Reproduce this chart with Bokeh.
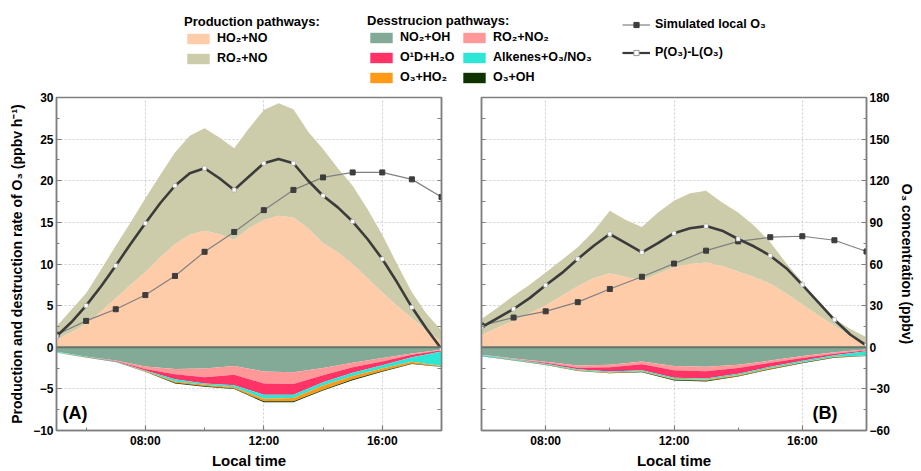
import numpy as np
from bokeh.plotting import figure
from bokeh.models import (Range1d, LinearAxis, FixedTicker, Legend, LegendItem,
                          Label, Span)
from bokeh.layouts import column, row
from bokeh.embed import file_html
from bokeh.resources import INLINE

FONT = "Liberation Sans"

# ---------------- data ----------------
tick_labels = {8: "08:00", 12: "12:00", 16: "16:00"}

hours_A = [5, 6, 7, 8, 9, 10, 11, 12, 13, 14, 15, 16, 17, 18]
half_A = [5.0, 5.5, 6.0, 6.5, 7.0, 7.5, 8.0, 8.5, 9.0, 9.5, 10.0, 10.5, 11.0, 11.5,
          12.0, 12.5, 13.0, 13.5, 14.0, 14.5, 15.0, 15.5, 16.0, 16.5, 17.0, 17.5, 18.0]
A_ho2_no = [0.9, 1.8, 2.8, 4.3, 5.9, 7.5, 9.0, 10.8, 12.4, 13.5, 14.0, 13.6, 12.9, 14.3,
            15.3, 15.8, 15.6, 14.3, 12.5, 11.4, 10.0, 8.3, 6.6, 5.0, 3.5, 2.0, 0.7]
A_ro2_no = [1.6, 2.7, 3.7, 5.0, 6.3, 7.5, 8.9, 9.9, 11.0, 11.9, 12.3, 11.6, 11.0, 12.0,
            13.2, 13.5, 13.0, 11.6, 11.3, 10.1, 9.4, 8.3, 6.9, 5.0, 3.1, 2.0, 1.3]
A_PL = [1.3, 3.0, 5.0, 7.3, 9.8, 12.4, 14.9, 17.3, 19.4, 20.9, 21.5, 20.3, 18.9, 20.5,
        22.1, 22.6, 22.1, 20.0, 18.2, 16.8, 15.1, 13.0, 10.6, 7.8, 4.8, 2.2, -0.2]
A_O3 = [9, 19, 27.4, 37.6, 51.4, 68.8, 83.1, 98.8, 113.4, 122.4, 126, 126, 121, 108.3]
A_no2_oh = [0.55, 1.1, 1.6, 2.3, 2.6, 2.55, 2.25, 2.9, 3.0, 2.5, 1.85, 1.3, 0.75, 0.3]
A_ro2_no2 = [0.0, 0.0, 0.05, 0.3, 0.65, 1.05, 1.05, 1.45, 1.4, 0.85, 0.55, 0.4, 0.15, 0.05]
A_o1d_h2o = [0.0, 0.02, 0.05, 0.2, 0.6, 0.75, 1.25, 1.35, 1.3, 0.85, 0.65, 0.45, 0.3, 0.15]
A_alkenes = [0.08, 0.05, 0.03, 0.05, 0.25, 0.15, 0.25, 0.5, 0.4, 0.4, 0.4, 0.4, 0.55, 1.75]
A_o3_ho2 = [0.02, 0.02, 0.02, 0.05, 0.15, 0.15, 0.15, 0.3, 0.4, 0.5, 0.4, 0.3, 0.2, 0.08]
A_o3_oh = [0.02, 0.03, 0.03, 0.05, 0.1, 0.08, 0.08, 0.12, 0.12, 0.1, 0.1, 0.08, 0.06, 0.05]

hours_B = [6, 7, 8, 9, 10, 11, 12, 13, 14, 15, 16, 17, 18]
half_B = [6.0, 6.5, 7.0, 7.5, 8.0, 8.5, 9.0, 9.5, 10.0, 10.5, 11.0, 11.5, 12.0,
          12.5, 13.0, 13.5, 14.0, 14.5, 15.0, 15.5, 16.0, 16.5, 17.0, 17.5, 18.0]
B_ho2_no = [1.46, 2.37, 3.16, 4.07, 5.02, 6.2, 7.32, 8.31, 8.9, 8.43, 8.03, 8.82, 9.62,
            10.0, 10.17, 9.77, 9.1, 8.43, 7.64, 6.45, 5.14, 3.84, 2.57, 1.38, 0.27]
B_ro2_no = [1.94, 2.38, 3.04, 3.45, 3.96, 4.29, 4.68, 5.66, 7.5, 6.87, 6.42, 7.38, 7.98,
            8.5, 8.63, 7.63, 7.1, 6.17, 4.96, 3.65, 2.66, 1.56, 0.83, 0.82, 0.93]
B_PL = [2.4, 3.5, 4.6, 5.9, 7.45, 8.9, 10.6, 12.2, 13.6, 12.5, 11.4, 12.5, 13.7,
        14.3, 14.55, 14.0, 13.0, 12.1, 11.0, 9.5, 7.5, 5.4, 3.3, 1.5, 0.2]
B_O3 = [15.6, 21.4, 25.9, 32.5, 42, 50.8, 60.3, 69.6, 76.3, 79.3, 80, 77.1, 69]
B_no2_oh = [0.9, 1.35, 1.75, 2.2, 2.1, 1.7, 2.25, 2.35, 2.1, 1.6, 1.05, 0.6, 0.28]
B_ro2_no2 = [0.02, 0.05, 0.1, 0.25, 0.3, 0.35, 0.5, 0.52, 0.4, 0.27, 0.23, 0.17, 0.08]
B_o1d_h2o = [0.02, 0.05, 0.13, 0.2, 0.52, 0.72, 0.9, 0.87, 0.67, 0.48, 0.33, 0.18, 0.12]
B_alkenes = [0.1, 0.08, 0.08, 0.1, 0.1, 0.1, 0.16, 0.16, 0.15, 0.15, 0.18, 0.2, 0.5]
B_o3_ho2 = [0.02, 0.03, 0.04, 0.06, 0.06, 0.07, 0.1, 0.12, 0.12, 0.1, 0.08, 0.06, 0.05]
B_o3_oh = [0.02, 0.03, 0.04, 0.05, 0.05, 0.05, 0.08, 0.1, 0.08, 0.07, 0.06, 0.04, 0.03]

prod_names = ["HO₂+NO", "RO₂+NO"]
prod_colors = ["#FFCCAA", "#CCCCAA"]
dest_names = ["NO₂+OH", "RO₂+NO₂", "O¹D+H₂O", "Alkenes+O₃/NO₃", "O₃+HO₂", "O₃+OH"]
dest_colors = ["#82AA96", "#FF9999", "#FF3366", "#2EE6D6", "#FF9916", "#0F3300"]

AX_COL = "#7f7f7f"
y_ticks = [-10, -5, 0, 5, 10, 15, 20, 25, 30]
y_minor = [-7.5, -2.5, 2.5, 7.5, 12.5, 17.5, 22.5, 27.5]
o3_ticks = [-60, -30, 0, 30, 60, 90, 120, 150, 180]
o3_minor = [-45, -15, 15, 45, 75, 105, 135, 165]


def style_axis(ax):
    ax.axis_line_color = AX_COL
    ax.axis_line_width = 1.5
    ax.major_tick_line_color = AX_COL
    ax.minor_tick_line_color = AX_COL
    ax.major_tick_line_width = 1.2
    ax.minor_tick_line_width = 1.0
    ax.major_tick_in = 5
    ax.major_tick_out = 0
    ax.minor_tick_in = 3
    ax.minor_tick_out = 0
    ax.major_label_text_font = FONT
    ax.major_label_text_font_style = "bold"
    ax.major_label_text_font_size = "12px"
    ax.major_label_text_color = "black"
    ax.major_label_standoff = 3
    ax.axis_label_text_font = FONT
    ax.axis_label_text_font_style = "bold"
    ax.axis_label_text_color = "black"


def bare_axis(side_range=None):
    # axis line + inward ticks only (no tick labels)
    ax = LinearAxis(ticker=FixedTicker(ticks=[], minor_ticks=y_ticks + y_minor))
    style_axis(ax)
    ax.minor_tick_in = 4
    ax.major_label_standoff = 0
    return ax


def panel(width, hours, half, ho2, ro2, pl, o3, dest, xr, is_left, tag, tag_x,
          bl, br):
    p = figure(width=width, height=381, x_range=Range1d(*xr), y_range=Range1d(-10, 30),
               toolbar_location=None, output_backend="svg",
               y_axis_location="left" if is_left else None,
               min_border_left=bl, min_border_right=br, min_border_top=7,
               min_border_bottom=30)
    p.extra_y_ranges = {"o3": Range1d(-60, 180)}
    p.outline_line_color = AX_COL
    p.outline_line_width = 1.5
    p.background_fill_color = "white"

    p.xaxis.ticker = FixedTicker(ticks=[8, 12, 16], minor_ticks=[6, 10, 14, 18])
    p.xaxis.major_label_overrides = tick_labels
    style_axis(p.xaxis[0])
    p.xaxis.axis_label = "Local time"
    p.xaxis.axis_label_text_font_size = "15px"
    p.xaxis.axis_label_standoff = 1

    if is_left:
        p.yaxis.ticker = FixedTicker(ticks=y_ticks, minor_ticks=y_minor)
        style_axis(p.yaxis[0])
        p.yaxis.axis_label = "Production and destruction rate of O₃ (ppbv h⁻¹)"
        p.yaxis.axis_label_text_font_size = "14px"
        p.yaxis.axis_label_standoff = 5
        p.add_layout(bare_axis(), "right")
    else:
        p.add_layout(bare_axis(), "left")
        rax = LinearAxis(y_range_name="o3",
                         ticker=FixedTicker(ticks=o3_ticks, minor_ticks=o3_minor),
                         axis_label="O₃ concentration (ppbv)")
        style_axis(rax)
        rax.axis_label_text_font_size = "14px"
        rax.axis_label_standoff = 6
        p.add_layout(rax, "right")

    p.xgrid.ticker = FixedTicker(ticks=[8, 12, 16])
    p.ygrid.ticker = FixedTicker(ticks=y_ticks)
    for g in (p.xgrid[0], p.ygrid[0]):
        g.grid_line_color = "#cfcfcf"
        g.grid_line_dash = "2 2"
        g.grid_line_width = 1

    # production areas
    ho2 = np.array(ho2)
    tot = ho2 + np.array(ro2)
    p.varea(x=half, y1=0, y2=ho2, fill_color=prod_colors[0])
    p.varea(x=half, y1=ho2, y2=tot, fill_color=prod_colors[1])

    # destruction areas (stacked downward)
    base = np.zeros(len(hours))
    for vals, col in zip(dest, dest_colors):
        nxt = base - np.array(vals)
        p.varea(x=hours, y1=base, y2=nxt, fill_color=col)
        base = nxt

    p.add_layout(Span(location=0, dimension="width", line_color="#62756b",
                      line_width=2))

    # simulated O3
    p.line(hours, o3, y_range_name="o3", line_color="#808080", line_width=1.2)
    p.scatter(hours, o3, y_range_name="o3", marker="square", size=5,
              fill_color="#3d3d3d", line_color="#3d3d3d")
    # P(O3)-L(O3)
    p.line(half, pl, line_color="#3b3b3b", line_width=2.6)
    p.scatter(half[::2], pl[::2], marker="square", size=4, fill_color="white",
              line_color="#aaaaaa", line_width=0.6)

    p.add_layout(Label(x=tag_x, y=8, x_units="screen", y_units="screen", text=tag,
                       text_font=FONT, text_font_style="bold", text_font_size="18px",
                       text_color="black"))
    return p


pA = panel(461, hours_A, half_A, A_ho2_no, A_ro2_no, A_PL, A_O3,
           [A_no2_oh, A_ro2_no2, A_o1d_h2o, A_alkenes, A_o3_ho2, A_o3_oh],
           (5, 18), True, "(A)", 6, 56, 20)
pB = panel(460, hours_B, half_B, B_ho2_no, B_ro2_no, B_PL, B_O3,
           [B_no2_oh, B_ro2_no2, B_o1d_h2o, B_alkenes, B_o3_ho2, B_o3_oh],
           (6, 18), False, "(B)", 331, 20, 55)

# ---------------- legend strip ----------------
lf = figure(width=921, height=90, x_range=Range1d(0, 1), y_range=Range1d(0, 1),
            toolbar_location=None, output_backend="svg", min_border=0)
lf.axis.visible = False
lf.grid.visible = False
lf.outline_line_color = None

nan = [np.nan]
prod_r = [lf.varea(x=nan, y1=nan, y2=nan, fill_color=c) for c in prod_colors]
dest_r = [lf.varea(x=nan, y1=nan, y2=nan, fill_color=c) for c in dest_colors]
o3_l = lf.line(x=nan, y=nan, line_color="#808080", line_width=1.2)
o3_s = lf.scatter(x=nan, y=nan, marker="square", fill_color="#3d3d3d",
                  line_color="#3d3d3d")
pl_l = lf.line(x=nan, y=nan, line_color="#3b3b3b", line_width=2.2)
pl_s = lf.scatter(x=nan, y=nan, marker="square", fill_color="white",
                  line_color="#999999")


def add_legend(items, loc, title=None, spacing=6):
    lg = Legend(items=items, location=loc, orientation="vertical",
                glyph_width=28, glyph_height=13, label_height=13, label_standoff=5,
                spacing=spacing, padding=0, margin=0, border_line_color=None,
                background_fill_alpha=0, label_text_font=FONT,
                label_text_font_style="bold", label_text_font_size="12.5px",
                label_text_color="black")
    if title:
        lg.title = title
        lg.title_text_font = FONT
        lg.title_text_font_style = "bold"
        lg.title_text_font_size = "13px"
        lg.title_text_color = "black"
        lg.title_standoff = 2
    lf.add_layout(lg, "center")


add_legend([LegendItem(label=n, renderers=[r]) for n, r in zip(prod_names, prod_r)],
           (184, 25), "Production pathways:")
add_legend([LegendItem(label=dest_names[i], renderers=[dest_r[i]]) for i in (0, 2, 4)],
           (367, 6), "Desstrucion pathways:")
add_legend([LegendItem(label=dest_names[i], renderers=[dest_r[i]]) for i in (1, 3, 5)],
           (460, 6))
add_legend([LegendItem(label="Simulated local O₃", renderers=[o3_l, o3_s]),
            LegendItem(label="P(O₃)-L(O₃)", renderers=[pl_l, pl_s])],
           (622, 31), spacing=14)

layout = column(lf, row(pA, pB, spacing=0), spacing=0)
open("out.html", "w").write(file_html(layout, INLINE))
